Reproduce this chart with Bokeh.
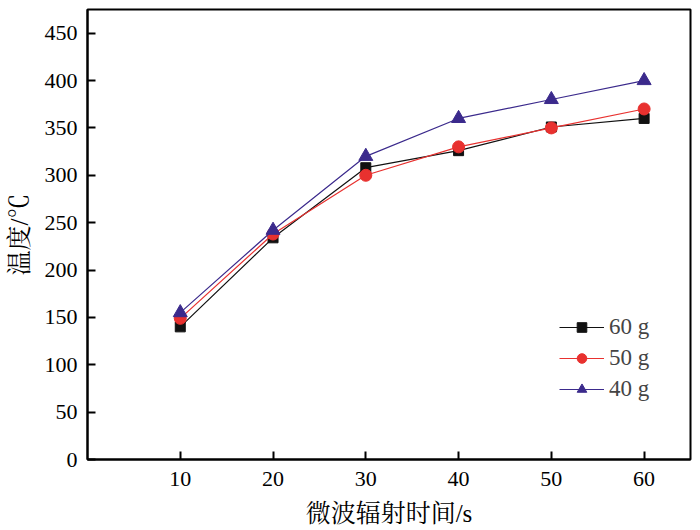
from bokeh.plotting import figure
from bokeh.models import Range1d, FixedTicker, Legend, LegendItem
from bokeh.embed import file_html
from bokeh.resources import INLINE

time_s = [10, 20, 30, 40, 50, 60]
temp_60g = [140, 234, 308, 326, 351, 360]
temp_50g = [149, 238, 300, 330, 350, 370]
temp_40g = [155, 242, 320, 360, 380, 400]
x_ticks = [10, 20, 30, 40, 50, 60]
y_ticks = [0, 50, 100, 150, 200, 250, 300, 350, 400, 450]
series_labels = ["60 g", "50 g", "40 g"]

FONT = "'Liberation Serif', 'Noto Serif CJK SC', 'Noto Sans CJK SC', serif"

p = figure(width=692, height=529, output_backend="svg", toolbar_location=None,
           x_range=Range1d(0, 65), y_range=Range1d(0, 475),
           min_border_left=87, min_border_right=2, min_border_top=9, min_border_bottom=70)
p.grid.visible = False
p.outline_line_color = "black"
p.outline_line_width = 2
p.background_fill_color = "white"
p.border_fill_color = "white"

for ax in (p.xaxis[0], p.yaxis[0]):
    ax.axis_line_width = 2
    ax.axis_line_color = "black"
    ax.major_tick_in = 8
    ax.major_tick_out = 0
    ax.major_tick_line_width = 2
    ax.minor_tick_line_color = None
    ax.major_label_text_font = FONT
    ax.major_label_text_font_size = "22px"
    ax.major_label_text_color = "black"
    ax.axis_label_text_font = FONT
    ax.axis_label_text_font_size = "25px"
    ax.axis_label_text_font_style = "normal"
    ax.axis_label_text_color = "black"

p.xaxis.ticker = FixedTicker(ticks=x_ticks)
p.yaxis.ticker = FixedTicker(ticks=y_ticks)
p.xaxis.major_label_standoff = 12
p.yaxis.major_label_standoff = 10
p.xaxis.axis_label = "微波辐射时间/s"
p.yaxis.axis_label = "温度/℃"
p.xaxis.axis_label_standoff = 11
p.yaxis.axis_label_standoff = 9

c60, c50, c40 = "#111111", "#e8312f", "#3b2a8c"
l1 = p.line(time_s, temp_60g, line_color=c60, line_width=1.2)
m1 = p.scatter(time_s, temp_60g, marker="square", size=10, fill_color=c60, line_color=c60)
l2 = p.line(time_s, temp_50g, line_color=c50, line_width=1.2)
m2 = p.scatter(time_s, temp_50g, marker="circle", size=12, fill_color=c50, line_color=c50)
l3 = p.line(time_s, temp_40g, line_color=c40, line_width=1.2)
m3 = p.scatter(time_s, temp_40g, marker="triangle", size=14, fill_color=c40, line_color=c40)

legend = Legend(items=[
    LegendItem(label=series_labels[0], renderers=[l1, m1]),
    LegendItem(label=series_labels[1], renderers=[l2, m2]),
    LegendItem(label=series_labels[2], renderers=[l3, m3]),
], location=(472, 57))
legend.border_line_color = None
legend.background_fill_alpha = 0
legend.label_text_font = FONT
legend.label_text_font_size = "23px"
legend.glyph_width = 45
legend.glyph_height = 24
legend.label_height = 24
legend.spacing = 5
legend.label_standoff = 5
legend.padding = 4
p.add_layout(legend, "center")

open("out.html", "w").write(file_html(p, INLINE))
